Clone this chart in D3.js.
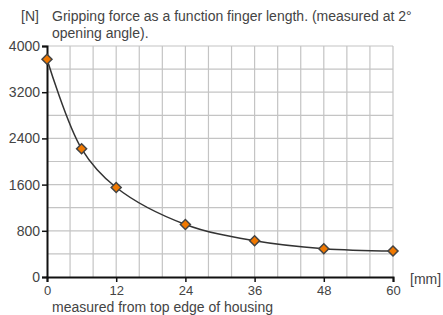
<!DOCTYPE html>
<html>
<head>
<meta charset="utf-8">
<script src="https://cdn.jsdelivr.net/npm/d3@7"></script>
<style>
  body { margin: 0; background: #fff; }
  text { font-family: "Liberation Sans", Arial, sans-serif; fill: #444; }
</style>
</head>
<body>
<div class="chart"></div>
<script>
// finger length in mm vs gripping force in N
const lengths = [0, 6, 12, 24, 36, 48, 60];
const forces = [3770, 2220, 1550, 910, 627, 490, 450];
const xTicks = [0, 12, 24, 36, 48, 60];
const yTicks = [0, 800, 1600, 2400, 3200, 4000];

const width = 443, height = 315;
const plotL = 47, plotR = 393, plotT = 46, plotB = 277;

const svg = d3.select('.chart')
  .append('svg')
  .attr('width', width)
  .attr('height', height);

const x = d3.scaleLinear().domain([0, 60]).range([plotL, plotR]);
const y = d3.scaleLinear().domain([0, 4000]).range([plotB, plotT]);

// grid, every 4 mm and 400 N
svg.append('g')
  .selectAll('line')
  .data(d3.range(4, 61, 4))
  .join('line')
  .attr('x1', d => x(d)).attr('x2', d => x(d))
  .attr('y1', plotT).attr('y2', plotB)
  .style('stroke', '#c4c4c4')
  .style('stroke-width', 1.2);

svg.append('g')
  .selectAll('line')
  .data(d3.range(400, 4001, 400))
  .join('line')
  .attr('x1', plotL).attr('x2', plotR)
  .attr('y1', d => y(d)).attr('y2', d => y(d))
  .style('stroke', '#c4c4c4')
  .style('stroke-width', 1.2);

// axes
const xAxis = svg.append('g')
  .attr('transform', `translate(0,${plotB})`)
  .call(d3.axisBottom(x).tickValues(xTicks).tickFormat(d3.format('d')).tickSize(5).tickPadding(4));
const yAxis = svg.append('g')
  .attr('transform', `translate(${plotL},0)`)
  .call(d3.axisLeft(y).tickValues(yTicks).tickFormat(d3.format('d')).tickSize(5).tickPadding(2));

[xAxis, yAxis].forEach(a => {
  a.select('.domain').style('stroke', '#111').style('stroke-width', 2);
  a.selectAll('.tick line').style('stroke', '#111').style('stroke-width', 1.5);
  a.selectAll('.tick text').style('font-size', '14px').style('fill', '#444')
    .style('font-family', '"Liberation Sans", Arial, sans-serif');
});
xAxis.selectAll('.tick text').style('font-size', '13px');

// curve
const line = d3.line()
  .x((d, i) => x(lengths[i]))
  .y(d => y(d))
  .curve(d3.curveCatmullRom);

svg.append('path')
  .datum(forces)
  .attr('d', line)
  .style('fill', 'none')
  .style('stroke', '#333')
  .style('stroke-width', 1.5);

// diamond markers
svg.append('g')
  .selectAll('path')
  .data(forces)
  .join('path')
  .attr('transform', (d, i) => `translate(${x(lengths[i])},${y(d)}) rotate(45)`)
  .attr('d', d3.symbol(d3.symbolSquare, 50))
  .style('fill', '#f07800')
  .style('stroke', '#444')
  .style('stroke-width', 1.5);

// labels
svg.append('text').attr('x', 21).attr('y', 21).style('font-size', '14px').text('[N]');
svg.append('text').attr('x', 52).attr('y', 21).style('font-size', '14px')
  .text('Gripping force as a function finger length. (measured at 2°');
svg.append('text').attr('x', 52).attr('y', 38).style('font-size', '14px')
  .text('opening angle).');
svg.append('text').attr('x', 410).attr('y', 284).style('font-size', '14px').text('[mm]');
svg.append('text').attr('x', 52).attr('y', 311.5).style('font-size', '14px')
  .text('measured from top edge of housing');
</script>
</body>
</html>
